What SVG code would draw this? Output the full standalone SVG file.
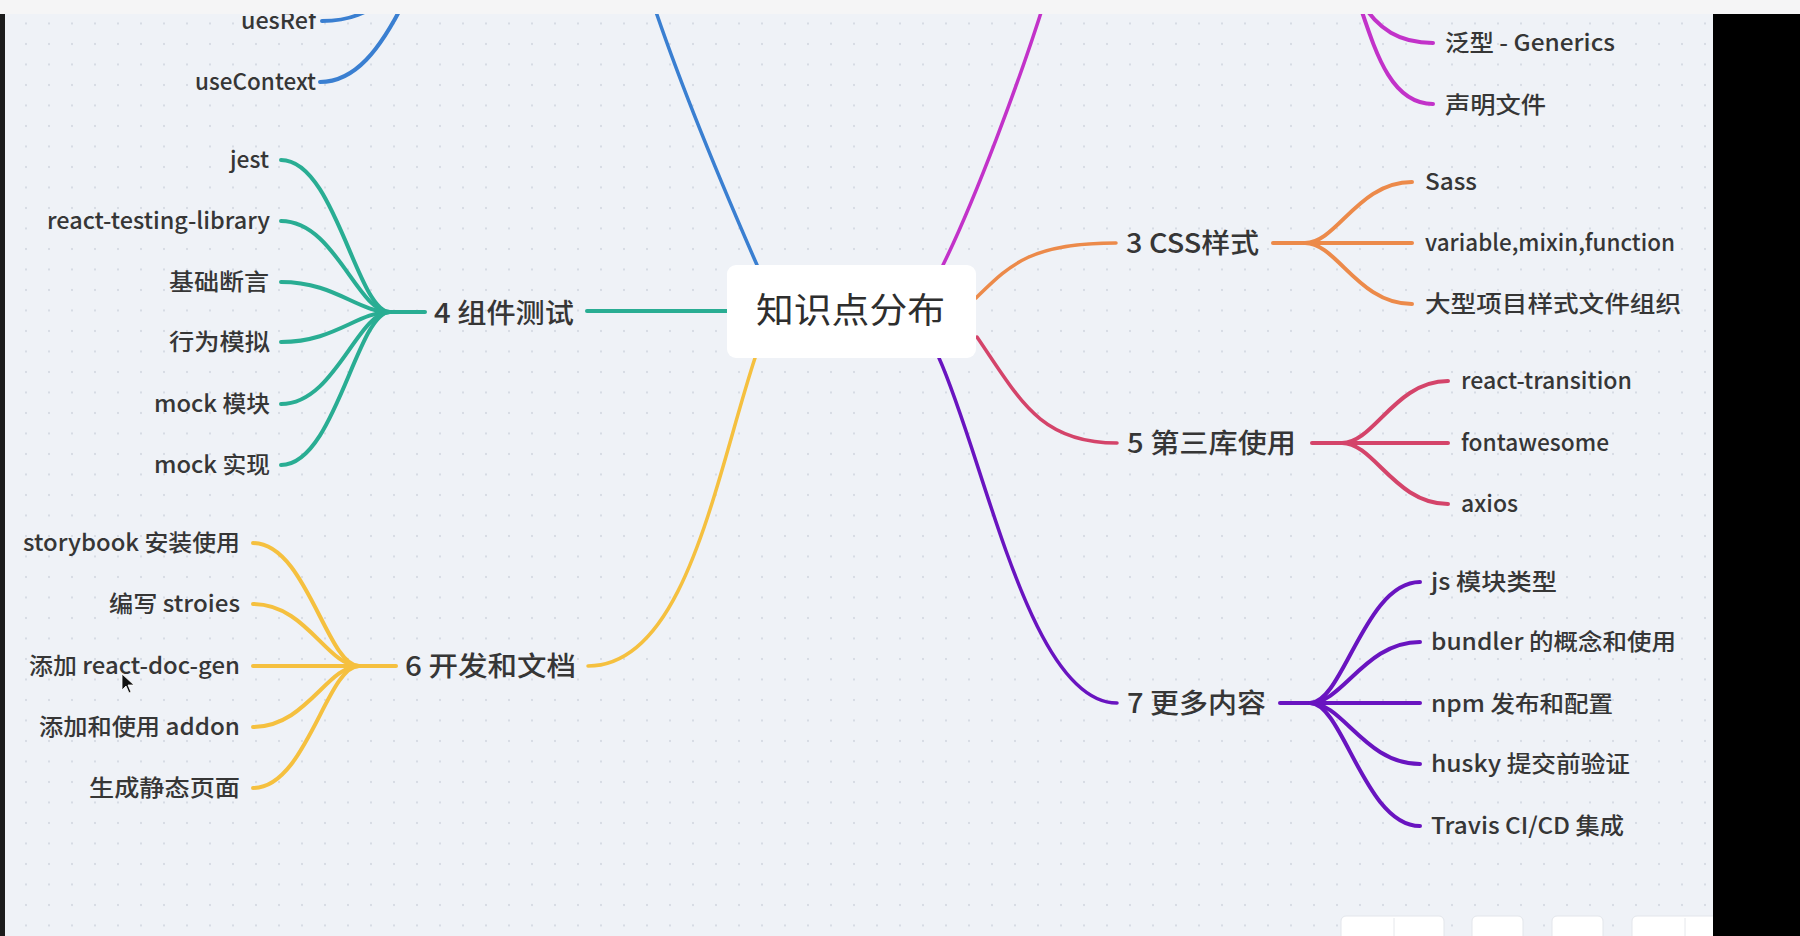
<svg xmlns="http://www.w3.org/2000/svg" width="1800" height="936" viewBox="0 0 1800 936">
<defs>
<pattern id="dots" width="23" height="20.5" patternUnits="userSpaceOnUse"><circle cx="3" cy="3" r="1.1" fill="#d2d7e0"/></pattern>
<style>
text{font-family:"Noto Sans CJK SC","Noto Sans",sans-serif;fill:#363636;font-weight:500;}
.c{font-size:23px;}
.t{font-size:27px;}
.root{font-size:35px;fill:#2e2e2e;font-weight:400;}
.ln{fill:none;stroke-linecap:round;stroke-linejoin:round;}
.m{stroke-width:3.5;}
.k{stroke-width:4;}
.teal{stroke:#29ad93;}
.yel{stroke:#f5c03f;}
.blue{stroke:#3a7fd1;}
.mag{stroke:#c232c9;}
.ora{stroke:#ec8a4a;}
.red{stroke:#d4446a;}
.pur{stroke:#6914c0;}
.btn{fill:#ffffff;stroke:#e3e6eb;stroke-width:1;}
</style>
</defs>
<rect x="0" y="0" width="1800" height="936" fill="#eff2f7"/>
<rect x="0" y="0" width="1800" height="936" fill="url(#dots)"/>

<g id="connectors">
<!-- main branches -->
<path class="ln m blue" d="M757,265 C722,185 682,90 652,0"/>
<path class="ln m mag" d="M943,265 C975,200 1020,80 1045,0"/>
<path class="ln k teal" d="M727,311 L587,311"/>
<path class="ln m yel" d="M755,358 C715,480 685,666 588,666"/>
<path class="ln m ora" d="M976,298 C1010,265 1030,243 1116,243"/>
<path class="ln m red" d="M977,337 C1020,400 1040,443 1117,443"/>
<path class="ln m pur" d="M939,358 C985,460 1030,703 1117,703"/>
<!-- title to hub -->
<path class="ln k teal" d="M425,312 L390,312"/>
<path class="ln k yel" d="M396,666 L359,666"/>
<path class="ln k ora" d="M1273,243 L1305,243"/>
<path class="ln k red" d="M1312,443 L1342,443"/>
<path class="ln k pur" d="M1280,703 L1310,703"/>
<!-- blue children -->
<path class="ln k blue" d="M322,21 C350,21 370,12 380,0"/>
<path class="ln k blue" d="M320,82 C355,82 380,50 405,0"/>
<!-- magenta children -->
<path class="ln k mag" d="M1433,43 C1400,43 1378,30 1360,0"/>
<path class="ln k mag" d="M1433,104 C1390,104 1375,50 1358,0"/>
<!-- teal children -->
<path class="ln k teal" d="M390,312 C357,312 335,160 281,160"/>
<path class="ln k teal" d="M390,312 C357,312 335,221 281,221"/>
<path class="ln k teal" d="M390,312 C357,312 335,282 281,282"/>
<path class="ln k teal" d="M390,312 C357,312 335,342 281,342"/>
<path class="ln k teal" d="M390,312 C357,312 335,404 281,404"/>
<path class="ln k teal" d="M390,312 C357,312 335,465 281,465"/>
<!-- yellow children -->
<path class="ln k yel" d="M359,666 C327,666 306,543 253,543"/>
<path class="ln k yel" d="M359,666 C327,666 306,604 253,604"/>
<path class="ln k yel" d="M359,666 L253,666"/>
<path class="ln k yel" d="M359,666 C327,666 306,727 253,727"/>
<path class="ln k yel" d="M359,666 C327,666 306,788 253,788"/>
<!-- orange children -->
<path class="ln k ora" d="M1305,243 C1337,243 1358,182 1412,182"/>
<path class="ln k ora" d="M1305,243 L1412,243"/>
<path class="ln k ora" d="M1305,243 C1337,243 1358,304 1412,304"/>
<!-- red children -->
<path class="ln k red" d="M1342,443 C1374,443 1395,381 1448,381"/>
<path class="ln k red" d="M1342,443 L1448,443"/>
<path class="ln k red" d="M1342,443 C1374,443 1395,504 1448,504"/>
<!-- purple children -->
<path class="ln k pur" d="M1310,703 C1343,703 1365,582 1420,582"/>
<path class="ln k pur" d="M1310,703 C1343,703 1365,642 1420,642"/>
<path class="ln k pur" d="M1310,703 L1420,703"/>
<path class="ln k pur" d="M1310,703 C1343,703 1365,764 1420,764"/>
<path class="ln k pur" d="M1310,703 C1343,703 1365,826 1420,826"/>
</g>

<g id="root">
<rect x="727" y="265" width="249" height="93" rx="9" fill="#ffffff"/>
<text class="root" x="756" y="323" textLength="189" lengthAdjust="spacingAndGlyphs">知识点分布</text>
</g>

<g id="b-hooks">
<text class="c" x="316" y="29" text-anchor="end" textLength="75" lengthAdjust="spacingAndGlyphs">uesRef</text>
<text class="c" x="316" y="90" text-anchor="end" textLength="121" lengthAdjust="spacingAndGlyphs">useContext</text>
</g>

<g id="b-ts">
<text class="c" x="1445" y="51" textLength="170" lengthAdjust="spacingAndGlyphs">泛型 - Generics</text>
<text class="c" x="1445" y="113" textLength="101" lengthAdjust="spacingAndGlyphs">声明文件</text>
</g>

<g id="b4">
<text class="t" x="434" y="323" textLength="140" lengthAdjust="spacingAndGlyphs">4 组件测试</text>
<text class="c" x="269" y="168" text-anchor="end" textLength="39" lengthAdjust="spacingAndGlyphs">jest</text>
<text class="c" x="270" y="229" text-anchor="end" textLength="223" lengthAdjust="spacingAndGlyphs">react-testing-library</text>
<text class="c" x="269" y="290" text-anchor="end" textLength="100" lengthAdjust="spacingAndGlyphs">基础断言</text>
<text class="c" x="270" y="350" text-anchor="end" textLength="101" lengthAdjust="spacingAndGlyphs">行为模拟</text>
<text class="c" x="270" y="412" text-anchor="end" textLength="116" lengthAdjust="spacingAndGlyphs">mock 模块</text>
<text class="c" x="270" y="473" text-anchor="end" textLength="116" lengthAdjust="spacingAndGlyphs">mock 实现</text>
</g>

<g id="b6">
<text class="t" x="405" y="676" textLength="171" lengthAdjust="spacingAndGlyphs">6 开发和文档</text>
<text class="c" x="240" y="551" text-anchor="end" textLength="217" lengthAdjust="spacingAndGlyphs">storybook 安装使用</text>
<text class="c" x="240" y="612" text-anchor="end" textLength="131" lengthAdjust="spacingAndGlyphs">编写 stroies</text>
<text class="c" x="240" y="674" text-anchor="end" textLength="211" lengthAdjust="spacingAndGlyphs">添加 react-doc-gen</text>
<text class="c" x="240" y="735" text-anchor="end" textLength="201" lengthAdjust="spacingAndGlyphs">添加和使用 addon</text>
<text class="c" x="240" y="796" text-anchor="end" textLength="151" lengthAdjust="spacingAndGlyphs">生成静态页面</text>
</g>

<g id="b3">
<text class="t" x="1126" y="253" textLength="133" lengthAdjust="spacingAndGlyphs">3 CSS样式</text>
<text class="c" x="1425" y="190" textLength="52" lengthAdjust="spacingAndGlyphs">Sass</text>
<text class="c" x="1425" y="251" textLength="250" lengthAdjust="spacingAndGlyphs">variable,mixin,function</text>
<text class="c" x="1425" y="312" textLength="256" lengthAdjust="spacingAndGlyphs">大型项目样式文件组织</text>
</g>

<g id="b5">
<text class="t" x="1127" y="453" textLength="169" lengthAdjust="spacingAndGlyphs">5 第三库使用</text>
<text class="c" x="1461" y="389" textLength="171" lengthAdjust="spacingAndGlyphs">react-transition</text>
<text class="c" x="1461" y="451" textLength="148" lengthAdjust="spacingAndGlyphs">fontawesome</text>
<text class="c" x="1461" y="512" textLength="57" lengthAdjust="spacingAndGlyphs">axios</text>
</g>

<g id="b7">
<text class="t" x="1127" y="713" textLength="139" lengthAdjust="spacingAndGlyphs">7 更多内容</text>
<text class="c" x="1431" y="590" textLength="126" lengthAdjust="spacingAndGlyphs">js 模块类型</text>
<text class="c" x="1431" y="650" textLength="245" lengthAdjust="spacingAndGlyphs">bundler 的概念和使用</text>
<text class="c" x="1431" y="712" textLength="182" lengthAdjust="spacingAndGlyphs">npm 发布和配置</text>
<text class="c" x="1431" y="772" textLength="199" lengthAdjust="spacingAndGlyphs">husky 提交前验证</text>
<text class="c" x="1431" y="834" textLength="193" lengthAdjust="spacingAndGlyphs">Travis CI/CD 集成</text>
</g>

<!-- cursor -->
<polygon points="122,674 122,690 126,686 129,693 131,692 128,685 134,685" fill="#111" stroke="#fff" stroke-width="0.8"/>

<!-- toolbar -->
<rect class="btn" x="1341" y="916" width="103" height="30" rx="5"/>
<line x1="1394" y1="918" x2="1394" y2="936" stroke="#e6e8ec"/>
<rect class="btn" x="1472" y="916" width="51" height="30" rx="5"/>
<rect class="btn" x="1552" y="916" width="51" height="30" rx="5"/>
<rect class="btn" x="1632" y="916" width="90" height="30" rx="5"/>
<line x1="1685" y1="918" x2="1685" y2="936" stroke="#e6e8ec"/>

<!-- frame -->
<rect x="0" y="14" width="5" height="922" fill="#1c1c1c"/>
<rect x="1713" y="14" width="87" height="922" fill="#000"/>
<rect x="0" y="0" width="1800" height="14" fill="#f5f5f6"/>
</svg>
